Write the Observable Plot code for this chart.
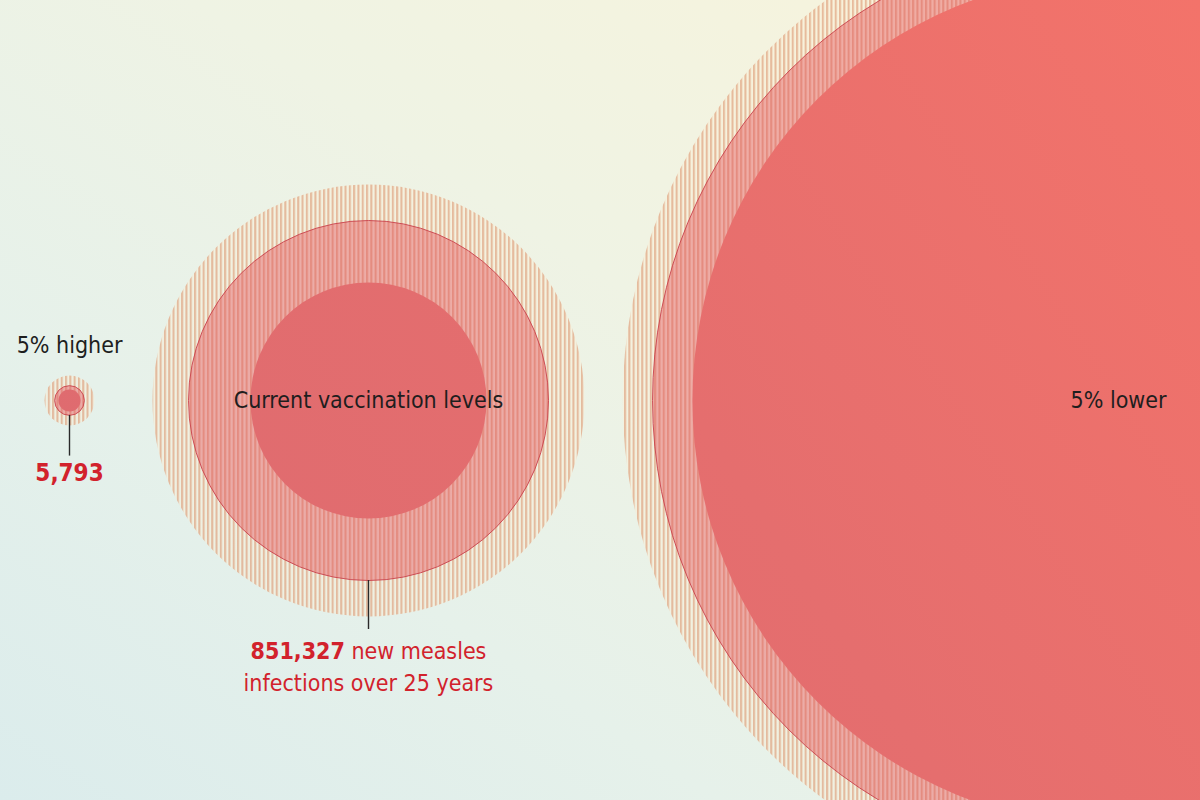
<!DOCTYPE html>
<html><head><meta charset="utf-8">
<script src="https://cdn.jsdelivr.net/npm/d3@7"></script>
<script src="https://cdn.jsdelivr.net/npm/@observablehq/plot@0.6"></script>
<style>
html,body{margin:0;padding:0;width:1200px;height:800px;overflow:hidden;
background: linear-gradient(to top right, #dbecec 0%, #e6f1ea 30%, #eff3e4 58%, #f9f3da 100%);}
#chart svg{display:block}
</style></head><body><div id="chart"></div>
<script>
// Scenarios (change in vaccination) and modelled measles infections over 25 years
const scenarios = ["5% higher", "Current vaccination levels", "5% lower"];
const central   = [5793, 851327, 5705000];
const lowBound  = [3200, 366000, 4770000];
const highBound = [16400, 1226000, 6460000];
const valueLabels = ["5,793", "851,327 new measles\ninfections over 25 years", null];
const labelInside = [false, true, true];

const W = 1200, H = 800, cy = H / 2;
const FONT = "'Liberation Sans Narrow', 'DejaVu Sans Condensed', 'Arial Narrow', Roboto, sans-serif";
const data = scenarios.map((s, i) => ({
  i, s, central: central[i], low: lowBound[i], high: highBound[i],
  value: valueLabels[i], inside: labelInside[i]
}));

const rOpts = {type: "sqrt", domain: [0, central[1]], range: [0, 180]};
const rs = Plot.scale({r: rOpts});
// piecewise horizontal layout of the three scenario groups
const xPos = d3.scaleLinear().domain([0, 1, 2]).range([69, 368, 1118]);
const cx = d => xPos(d.i);
const leaderTop = d => cy + rs.apply(d.central);
const leaderBot = d => cy + rs.apply(d.central) * 1.05 + 40;

const NS = "http://www.w3.org/2000/svg";
function el(tag, attrs, parent) {
  const e = document.createElementNS(NS, tag);
  for (const k in attrs) e.setAttribute(k, attrs[k]);
  if (parent) parent.appendChild(e);
  return e;
}
const defsMark = () => {
  const defs = el("defs", {});
  const p = el("pattern", {id: "hatch", patternUnits: "userSpaceOnUse", width: 4.3, height: 10}, defs);
  el("rect", {width: 4.3, height: 10, fill: "#fcefd8", "fill-opacity": 0.45}, p);
  el("rect", {width: 2.1, height: 10, fill: "#d98d68", "fill-opacity": 0.55}, p);
  const g = el("linearGradient", {id: "redGrad", gradientUnits: "userSpaceOnUse", x1: 0, y1: H, x2: W, y2: 0}, defs);
  el("stop", {offset: 0, "stop-color": "#dc6a70"}, g);
  el("stop", {offset: 0.55, "stop-color": "#e56e6e"}, g);
  el("stop", {offset: 1, "stop-color": "#f3736a"}, g);
  return defs;
};

const withValue = data.filter(d => d.value);
const plot = Plot.plot({
  width: W, height: H, margin: 0,
  x: {type: "identity", axis: null},
  y: {type: "identity", axis: null},
  r: rOpts,
  style: {background: "transparent", fontFamily: FONT, overflow: "hidden"},
  marks: [
    defsMark,
    Plot.dot(data, {x: cx, y: () => cy, r: "high", fill: "url(#hatch)", stroke: "none"}),
    Plot.dot(data, {x: cx, y: () => cy, r: "central", fill: "#e44c58", fillOpacity: 0.42, stroke: "#c8424c", strokeWidth: 0.9}),
    Plot.dot(data, {x: cx, y: () => cy, r: "low", fill: "url(#redGrad)", stroke: "none"}),
    Plot.ruleX(withValue, {x: cx, y1: leaderTop, y2: leaderBot, stroke: "#2a2a2a", strokeWidth: 1.4}),
    Plot.text(data.filter(d => !d.inside), {x: cx, y: d => cy - rs.apply(d.high) - 30, text: "s",
      fontSize: 23, fill: "#1e1e1e"}),
    Plot.text(data.filter(d => d.inside), {x: cx, y: () => cy, text: "s", fontSize: 23, fill: "#1e1e1e"}),
    Plot.text(withValue.filter(d => !d.value.includes("\n")), {x: cx, y: d => leaderBot(d) + 8, text: "value",
      lineAnchor: "top", fontSize: 24, fill: "#d2222c", fontWeight: "bold"}),
    Plot.text(withValue.filter(d => d.value.includes("\n")), {x: cx, y: d => leaderBot(d) + 6, text: "value",
      lineAnchor: "top", fontSize: 23, lineHeight: 1.42, fill: "#d2222c"})
  ]
});
document.getElementById("chart").appendChild(plot);

// bold the leading number of the multi-line value label
d3.select(plot).selectAll("tspan").each(function() {
  const t = this.textContent;
  const m = t.match(/^([\d,]+)( .*)$/);
  if (m && this.childElementCount === 0) {
    this.textContent = "";
    const b = el("tspan", {"font-weight": "bold"}, this);
    b.textContent = m[1];
    this.appendChild(document.createTextNode(m[2]));
  }
});
</script></body></html>
